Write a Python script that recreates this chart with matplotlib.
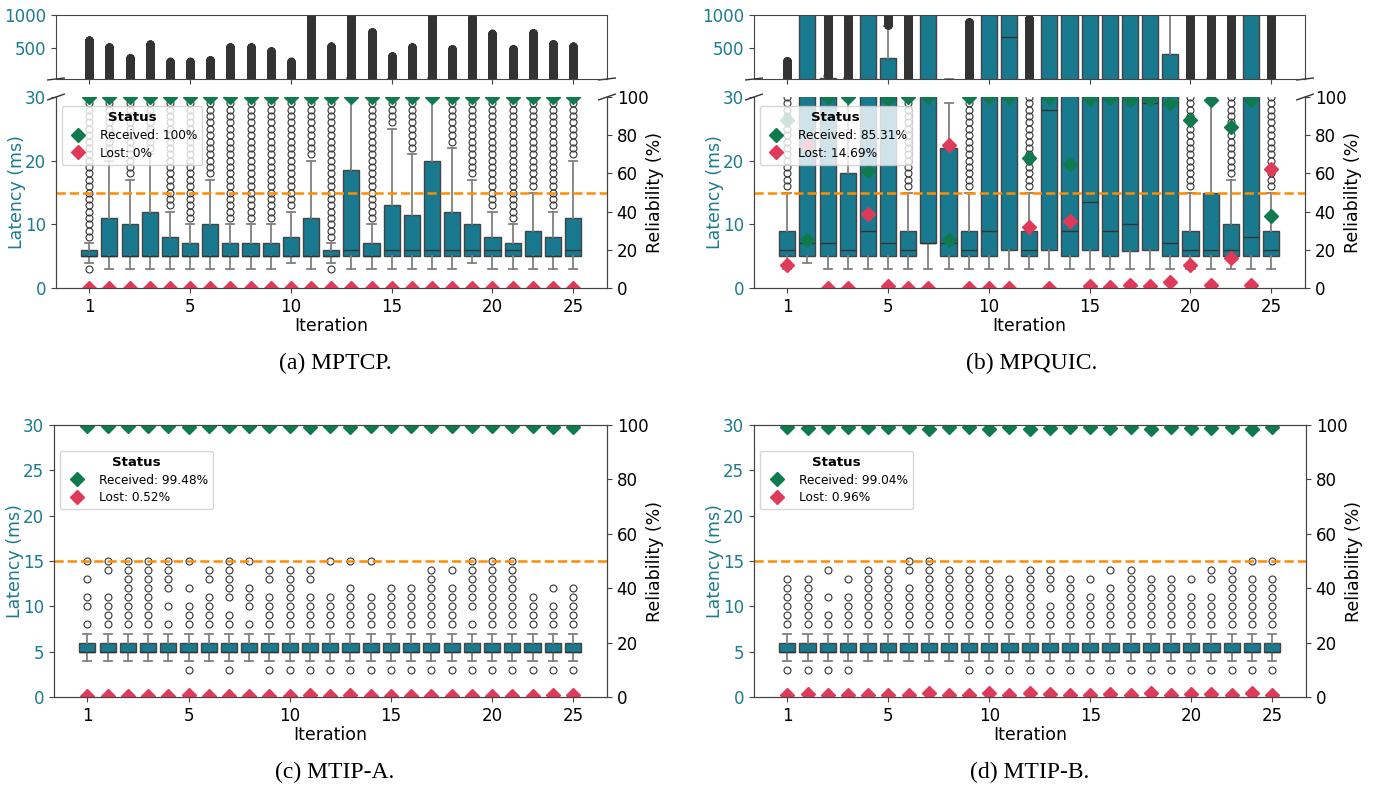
import numpy as np
import matplotlib.pyplot as plt
from matplotlib.lines import Line2D

W, H = 1375, 788
TEAL = '#19798f'
LABEL_TEAL = '#1b7a8e'
GREEN = '#0f7a4e'
RED = '#e03a5b'
ORANGE = '#ff8c00'
EDGE = '#444444'

tick_pos = [0, 5, 10, 15, 20, 24]
tick_labels = ['1', '5', '10', '15', '20', '25']
XLIM = (-1.65, 25.68)

# ---- (a) MPTCP ----
a_q1 = [5, 5, 5, 5, 5, 5, 5, 5, 5, 5, 5, 5, 5, 5, 5, 5, 5, 5, 5, 5, 5, 5, 5, 5, 5]
a_med = [5, 5, 5, 5, 5, 5, 5, 5, 5, 5, 5, 5, 5, 6, 5, 6, 6, 6, 6, 6, 6, 6, 5, 5, 6]
a_q3 = [6, 11, 10, 12, 8, 7, 10, 7, 7, 7, 8, 11, 6, 18.5, 7, 13, 11.5, 20, 12, 10, 8, 7, 9, 8, 11]
a_wlo = [4, 3, 3, 3, 3, 3, 3, 3, 3, 3, 4, 3, 4, 3, 3, 3, 3, 3, 3, 4, 3, 3, 3, 3, 3]
a_whi = [7, 20, 17, 21, 12, 10, 17, 10, 10, 10, 12, 20, 7, 40, 10, 25, 21, 45, 22, 17, 12, 10, 15, 12, 20]
a_fl_low = [3, 0, 0, 0, 0, 0, 0, 0, 0, 0, 0, 0, 3, 0, 0, 0, 0, 0, 0, 0, 0, 0, 0, 0, 0]
a_fl_start = [8, 21, 18, 22, 13, 11, 18, 11, 11, 11, 13, 21, 8, 41, 11, 26, 22, 46, 23, 18, 13, 11, 16, 13, 21]
a_fl_max = [617, 515, 352, 556, 296, 296, 321, 515, 515, 454, 296, 1200, 525, 1200, 745, 378, 515, 1200,
            490, 964, 720, 490, 730, 566, 525]
a_recv = [100] * 25
a_lost = [0] * 25

# ---- (b) MPQUIC ----
b_q1 = [5, 5, 5, 5, 5, 5, 5, 7, 5, 5, 5, 6, 5, 6, 5, 6, 5, 5.8, 6, 5, 5, 5, 5, 5, 5]
b_med = [6, 7, 7, 6, 9, 7, 6, 7, 7, 6, 9, 660, 6, 28, 9, 13.5, 9, 10, 29, 7, 6, 6, 6, 8, 6]
b_q3 = [9, 1200, 40, 18, 1200, 347, 9, 1200, 22, 9, 1200, 1200, 9, 1200, 1200, 1200, 1200, 1200, 1200,
        405, 9, 15, 10, 1200, 9]
b_wlo = [3, 4, 3, 3, 3, 3, 3, 3, 3, 3, 3, 3, 3, 3, 3, 3, 3, 3, 3, 3, 3, 3, 3, 3, 3]
b_whi = [15, 1500, 80, 45, 1500, 830, 15, 1500, 29, 15, 1500, 1500, 15, 1500, 1500, 1500, 1500, 1500, 1500,
         995, 15, 40, 17, 1500, 15]
b_fl_low = [0] * 25
b_fl_start = [16, 0, 81, 46, 0, 850, 16, 0, 0, 16, 0, 0, 16, 0, 0, 0, 0, 0, 0, 0, 16, 41, 18, 0, 16]
b_fl_max = [310, 0, 1200, 1200, 0, 1200, 1200, 0, 0, 898, 0, 0, 949, 0, 0, 0, 0, 0, 0, 0,
            1200, 1200, 1200, 0, 1200]
b_recv = [88, 25, 100, 100, 61, 98.8, 100, 100, 25, 100, 100, 100, 68, 100, 65, 99, 99.5, 98.3, 98.8, 97,
          88, 98.4, 84.3, 98.4, 37.5]
b_lost = [12, 75, 0, 0, 39, 1.2, 0, 0, 75, 0, 0, 0, 32, 0, 35, 1, 0.5, 1.7, 1.2, 3,
          12, 1.6, 15.7, 1.6, 62.5]

# ---- (c) MTIP-A / (d) MTIP-B: same box for every iteration ----
m_q1 = [5] * 25
m_med = [5] * 25
m_q3 = [6] * 25
m_wlo = [4] * 25
m_whi = [7] * 25

c_fliers = [
    [8, 10, 11, 13, 15], [8, 9, 10, 11, 14, 15], [8, 9, 10, 11, 12, 13, 14, 15],
    [8, 9, 10, 11, 12, 13, 14, 15], [8, 10, 12, 13, 14, 15], [3, 8, 9, 10, 12, 15],
    [8, 9, 10, 11, 13, 14], [3, 8, 9, 11, 12, 13, 14, 15], [8, 10, 11, 12, 15],
    [3, 8, 9, 10, 11, 13, 14], [3, 8, 9, 10, 11, 12, 13, 14], [3, 8, 9, 10, 11, 13, 14],
    [3, 8, 9, 10, 11, 15], [3, 8, 9, 10, 11, 12, 15], [3, 8, 9, 10, 11, 15],
    [3, 8, 9, 10, 11, 12], [3, 8, 9, 10, 11, 12], [3, 8, 9, 10, 11, 12, 13, 14],
    [3, 8, 9, 10, 11, 12, 14], [3, 8, 10, 11, 12, 13, 14, 15], [3, 8, 9, 10, 11, 12, 13, 14, 15],
    [3, 8, 9, 10, 11, 12, 13, 14, 15], [3, 8, 9, 10, 11], [3, 8, 9, 10, 12], [3, 8, 9, 10, 11, 12],
]
c_recv = [99.5, 99.5, 99.6, 99.6, 99.5, 99.1, 99.6, 99.5, 99.6, 99.5, 99.6, 99.1, 99.5, 99.1, 99.5,
          99.6, 99.5, 99.5, 99.5, 99.5, 99.6, 99.6, 99.5, 99.4, 99.2]
c_lost = [0.5, 0.5, 0.4, 0.4, 0.5, 0.9, 0.4, 0.5, 0.4, 0.5, 0.4, 0.9, 0.5, 0.9, 0.5,
          0.4, 0.5, 0.5, 0.5, 0.5, 0.4, 0.4, 0.5, 0.6, 0.8]

d_fliers = [
    [3, 8, 9, 10, 11, 12, 13], [3, 8, 9, 10, 11, 12, 13], [3, 8, 9, 11, 14], [3, 8, 9, 10, 11, 13],
    [8, 9, 10, 11, 12, 13, 14], [8, 9, 10, 11, 12, 13, 14], [8, 9, 10, 11, 12, 14, 15],
    [8, 9, 10, 11, 12, 13, 14, 15], [8, 9, 10, 11, 12, 13, 14], [3, 8, 9, 10, 11, 12, 13, 14],
    [3, 8, 9, 10, 11, 12, 13, 14], [3, 8, 9, 10, 11, 12, 13], [3, 8, 9, 10, 11, 12, 13, 14],
    [3, 8, 9, 10, 12, 13, 14], [3, 8, 9, 10, 11, 12, 13], [3, 8, 9, 10, 11, 13],
    [3, 8, 9, 10, 11, 12, 14], [3, 8, 9, 10, 11, 12, 13, 14], [3, 8, 9, 10, 11, 12, 13],
    [3, 8, 9, 10, 11, 12, 13], [3, 8, 9, 10, 11, 13], [3, 8, 9, 10, 11, 13, 14],
    [3, 8, 9, 10, 11, 12, 13, 14], [3, 8, 9, 10, 11, 12, 13, 15], [3, 8, 9, 10, 11, 12, 13, 15],
]
d_recv = [99.2, 99.0, 99.4, 99.2, 99.2, 99.1, 99.2, 98.4, 99.2, 99.2, 98.5, 99.2, 98.7, 98.8, 99.2,
          99.1, 99.0, 99.2, 98.4, 99.1, 98.8, 99.0, 99.2, 98.7, 99.2]
d_lost = [0.8, 1.0, 0.6, 0.8, 0.8, 0.9, 0.8, 1.6, 0.8, 0.8, 1.5, 0.8, 1.3, 1.2, 0.8,
          0.9, 1.0, 0.8, 1.6, 0.9, 1.2, 1.0, 0.8, 1.3, 0.8]

TICK_FS = 12
LABEL_FS = 12.5
MS = 7


def range_fliers(low, start, stop):
    # each circle is one packet; latencies are whole ms
    out = []
    for l, s, e in zip(low, start, stop):
        f = [l] if l else []
        if s:
            f += list(range(s, e + 1))
        out.append(f)
    return out


def make_stats(q1, med, q3, wlo, whi, fliers):
    return [dict(q1=a, med=m, q3=b, whislo=lo, whishi=hi, fliers=np.asarray(f, float))
            for a, m, b, lo, hi, f in zip(q1, med, q3, wlo, whi, fliers)]


def px_rect(left, top, right, bottom):
    return [left / W, 1 - bottom / H, (right - left) / W, (bottom - top) / H]


def draw_boxes(ax, stats):
    ax.bxp(stats, positions=np.arange(len(stats)), widths=0.8, capwidths=0.4,
           patch_artist=True, manage_ticks=False,
           boxprops=dict(facecolor=TEAL, edgecolor=EDGE, linewidth=1),
           medianprops=dict(color='#333333', linewidth=1),
           whiskerprops=dict(color='#808080', linewidth=1.3),
           capprops=dict(color='#808080', linewidth=1.3),
           flierprops=dict(marker='o', markerfacecolor='none', markeredgecolor='#333333',
                           markersize=5, markeredgewidth=0.8))
    ax.set_xlim(XLIM)
    for s in ax.spines.values():
        s.set_color(EDGE)


def panel(fig, rect, stats, recv, lost, recv_lbl, lost_lbl, yticks, leg_anchor, top_rect=None):
    pos = np.arange(len(stats))
    ax = fig.add_axes(px_rect(*rect))
    draw_boxes(ax, stats)
    ax.axhline(15, color=ORANGE, ls='--', lw=1.8, zorder=4)
    ax.set_ylim(0, 30)
    ax.set_yticks(yticks)
    ax.set_xticks(tick_pos, tick_labels)
    ax.tick_params(labelsize=TICK_FS, colors=EDGE, labelcolor='black')
    ax.tick_params(axis='y', labelcolor=LABEL_TEAL)
    ax.set_xlabel('Iteration', fontsize=LABEL_FS, labelpad=1)
    ax.set_ylabel('Latency (ms)', fontsize=LABEL_FS, color=LABEL_TEAL)
    ax.yaxis.set_label_coords(-0.055, 0.5)

    ax2 = ax.twinx()
    ax2.plot(pos, recv, ls='none', marker='D', ms=MS, color=GREEN)
    ax2.plot(pos, lost, ls='none', marker='D', ms=MS, color=RED)
    ax2.set_ylim(0, 100)
    ax2.set_yticks([0, 20, 40, 60, 80, 100])
    ax2.tick_params(labelsize=TICK_FS, colors=EDGE, labelcolor='black')
    ax2.set_ylabel('Reliability (%)', fontsize=LABEL_FS)
    ax2.yaxis.set_label_coords(1.07, 0.5)
    for s in ax2.spines.values():
        s.set_color(EDGE)
    handles = [Line2D([], [], ls='none', marker='D', ms=MS, color=GREEN, label=recv_lbl),
               Line2D([], [], ls='none', marker='D', ms=MS, color=RED, label=lost_lbl)]
    leg = ax2.legend(handles=handles, title='Status', loc='upper left', bbox_to_anchor=leg_anchor,
                     borderaxespad=0, fontsize=8.7, labelspacing=0.4,
                     title_fontproperties={'weight': 'bold', 'size': 9.6})
    leg.set_zorder(10)

    if top_rect is not None:
        axt = fig.add_axes(px_rect(*top_rect))
        draw_boxes(axt, stats)
        axt.set_ylim(30, 1000)
        axt.set_yticks([500, 1000])
        axt.set_xticks(tick_pos)
        axt.tick_params(labelbottom=False, labelsize=TICK_FS, colors=EDGE, labelcolor=LABEL_TEAL)
        ax.spines['top'].set_visible(False)
        ax2.spines['top'].set_visible(False)
        d = 0.015
        kw = dict(color='#333333', lw=1, clip_on=False)
        axt.plot([-d, d], [-d, d], transform=axt.transAxes, **kw)
        axt.plot([1 - d, 1 + d], [-d, d], transform=axt.transAxes, **kw)
        ax.plot([-d, d], [1 - d, 1 + d], transform=ax.transAxes, **kw)
        ax.plot([1 - d, 1 + d], [1 - d, 1 + d], transform=ax.transAxes, **kw)
    return ax


fig = plt.figure(figsize=(13.75, 7.88), dpi=100)

stats_a = make_stats(a_q1, a_med, a_q3, a_wlo, a_whi, range_fliers(a_fl_low, a_fl_start, a_fl_max))
stats_b = make_stats(b_q1, b_med, b_q3, b_wlo, b_whi, range_fliers(b_fl_low, b_fl_start, b_fl_max))
stats_c = make_stats(m_q1, m_med, m_q3, m_wlo, m_whi, c_fliers)
stats_d = make_stats(m_q1, m_med, m_q3, m_wlo, m_whi, d_fliers)

panel(fig, (56, 97, 607, 288), stats_a, a_recv, a_lost, 'Received: 100%', 'Lost: 0%',
      [0, 10, 20, 30], (0.01, 0.952), top_rect=(56, 15, 607, 79))
panel(fig, (754, 97, 1305, 288), stats_b, b_recv, b_lost, 'Received: 85.31%', 'Lost: 14.69%',
      [0, 10, 20, 30], (0.01, 0.952), top_rect=(754, 15, 1305, 79))
panel(fig, (54, 425, 607, 697), stats_c, c_recv, c_lost, 'Received: 99.48%', 'Lost: 0.52%',
      [0, 5, 10, 15, 20, 25, 30], (0.011, 0.905))
panel(fig, (754, 425, 1306, 697), stats_d, d_recv, d_lost, 'Received: 99.04%', 'Lost: 0.96%',
      [0, 5, 10, 15, 20, 25, 30], (0.011, 0.905))

cap = dict(family='Liberation Serif', size=17, ha='center', va='center')
fig.text(335 / W, 1 - 363 / H, '(a) MPTCP.', **cap)
fig.text(1032 / W, 1 - 363 / H, '(b) MPQUIC.', **cap)
fig.text(335 / W, 1 - 772 / H, '(c) MTIP-A.', **cap)
fig.text(1030 / W, 1 - 772 / H, '(d) MTIP-B.', **cap)

fig.savefig('out.png', dpi=100)
